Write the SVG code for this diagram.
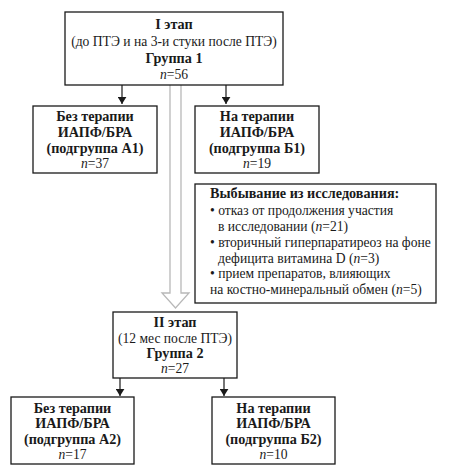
<svg xmlns="http://www.w3.org/2000/svg" width="449" height="474" viewBox="0 0 449 474">
<style>
.box{fill:#fff;stroke:#1a1a1a;stroke-width:1.3}
text{font-family:"Liberation Serif","Times New Roman",serif;font-size:13.6px;fill:#1a1a1a}
.c{text-anchor:middle}
.b{font-weight:bold;font-size:14.2px}
.con{stroke:#1a1a1a;stroke-width:1.2;fill:none}
</style>
<defs>
<marker id="ah" viewBox="0 0 8 10" refX="8" refY="5" markerWidth="7" markerHeight="9" markerUnits="userSpaceOnUse" orient="auto">
<path d="M0,0 L8,5 L0,10 Z" fill="#1a1a1a"/>
</marker>
</defs>
<rect width="449" height="474" fill="#fff"/>
<g id="connectors">
<path d="M170,85 V293 H162 L175.5,308 L189,293 H181 V85" fill="#fff" stroke="#b8b8b8" stroke-width="1.3"/>
<line class="con" x1="122" y1="85" x2="122" y2="104" marker-end="url(#ah)"/>
<line class="con" x1="226" y1="85" x2="226" y2="104" marker-end="url(#ah)"/>
<line class="con" x1="120" y1="378" x2="120" y2="396" marker-end="url(#ah)"/>
<line class="con" x1="224" y1="378" x2="224" y2="396" marker-end="url(#ah)"/>
</g>
<g id="stage1">
<rect class="box" x="65" y="12" width="218" height="73"/>
<text class="c b" x="174" y="29">I этап</text>
<text class="c" x="174" y="46">(до ПТЭ и на 3-и стуки после ПТЭ)</text>
<text class="c b" x="174" y="63">Группа 1</text>
<text class="c" x="174" y="79"><tspan font-style="italic">n</tspan>=56</text>
</g>
<g id="a1">
<rect class="box" x="33" y="106" width="124" height="67"/>
<text class="c b" x="95" y="121">Без терапии</text>
<text class="c b" x="95" y="137">ИАПФ/БРА</text>
<text class="c b" x="95" y="153">(подгруппа А1)</text>
<text class="c" x="95" y="168"><tspan font-style="italic">n</tspan>=37</text>
</g>
<g id="b1">
<rect class="box" x="195" y="106" width="124" height="67"/>
<text class="c b" x="257" y="121">На терапии</text>
<text class="c b" x="257" y="137">ИАПФ/БРА</text>
<text class="c b" x="257" y="153">(подгруппа Б1)</text>
<text class="c" x="257" y="168"><tspan font-style="italic">n</tspan>=19</text>
</g>
<g id="dropout">
<rect class="box" x="195" y="184" width="241" height="119"/>
<text class="b" x="210" y="198">Выбывание из исследования:</text>
<text x="210" y="215">• отказ от продолжения участия</text>
<text x="218" y="231">в исследовании (<tspan font-style="italic">n</tspan>=21)</text>
<text x="210" y="247">• вторичный гиперпаратиреоз на фоне</text>
<text x="218" y="263">дефицита витамина D (<tspan font-style="italic">n</tspan>=3)</text>
<text x="210" y="278">• прием препаратов, влияющих</text>
<text x="210" y="294">на костно-минеральный обмен (<tspan font-style="italic">n</tspan>=5)</text>
</g>
<g id="stage2">
<rect class="box" x="113" y="312" width="124" height="66"/>
<text class="c b" x="175" y="327">II этап</text>
<text class="c" x="175" y="343">(12 мес после ПТЭ)</text>
<text class="c b" x="175" y="358">Группа 2</text>
<text class="c" x="175" y="373"><tspan font-style="italic">n</tspan>=27</text>
</g>
<g id="a2">
<rect class="box" x="11" y="397" width="123" height="67"/>
<text class="c b" x="72.5" y="413">Без терапии</text>
<text class="c b" x="72.5" y="428">ИАПФ/БРА</text>
<text class="c b" x="72.5" y="444">(подгруппа А2)</text>
<text class="c" x="72.5" y="459"><tspan font-style="italic">n</tspan>=17</text>
</g>
<g id="b2">
<rect class="box" x="212" y="397" width="123" height="67"/>
<text class="c b" x="273.5" y="413">На терапии</text>
<text class="c b" x="273.5" y="428">ИАПФ/БРА</text>
<text class="c b" x="273.5" y="444">(подгруппа Б2)</text>
<text class="c" x="273.5" y="459"><tspan font-style="italic">n</tspan>=10</text>
</g>
</svg>
